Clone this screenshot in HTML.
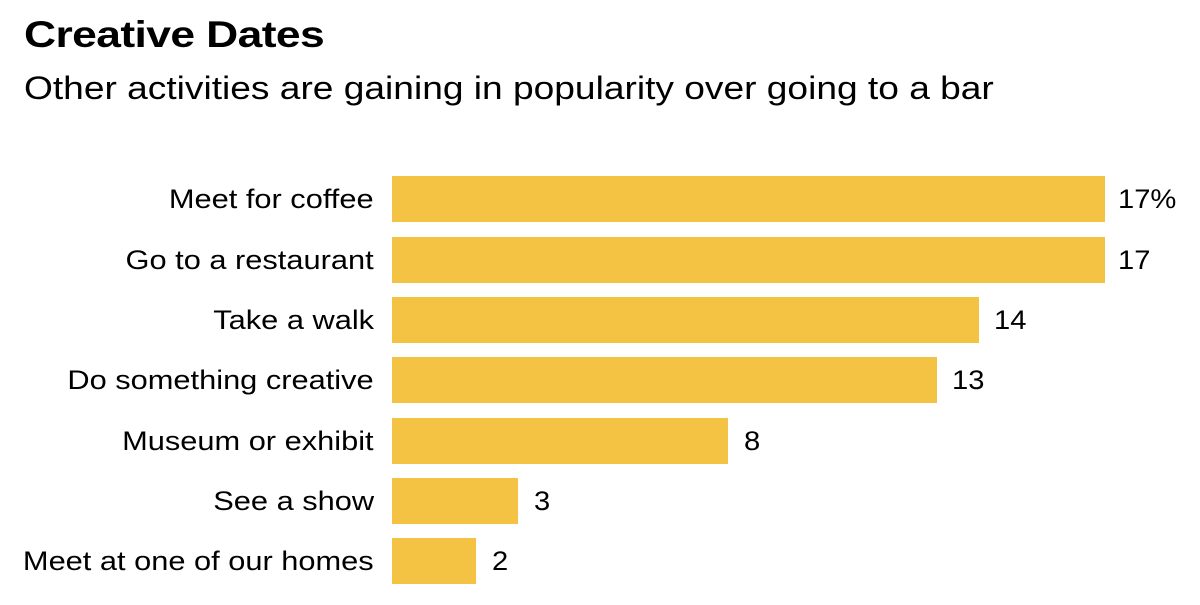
<!DOCTYPE html>
<html><head><meta charset="utf-8"><style>
body{margin:0;width:1200px;height:605px;background:#fff;font-family:"Liberation Sans",sans-serif;color:#000;position:relative;overflow:hidden}
.t{position:absolute;left:24px;top:14px;font-size:37px;font-weight:bold;letter-spacing:-0.5px;transform:scaleX(1.2);transform-origin:0 0}
.s{position:absolute;left:24px;top:70px;font-size:32px;transform:scaleX(1.16);transform-origin:0 0;white-space:nowrap}
.l{position:absolute;right:826px;font-size:27px;line-height:46px;white-space:nowrap;transform:scaleX(1.14);transform-origin:100% 0}
.b{position:absolute;left:392px;height:46px;background:#F5C343}
.v{position:absolute;font-size:27px;line-height:46px;transform:scaleX(1.08);transform-origin:0 0}
</style></head><body>
<div class="t">Creative Dates</div>
<div class="s">Other activities are gaining in popularity over going to a bar</div>

<div class="l" style="top:176px">Meet for coffee</div><div class="b" style="top:176px;width:713px"></div><div class="v" style="top:176px;left:1118px">17%</div>
<div class="l" style="top:237px">Go to a restaurant</div><div class="b" style="top:237px;width:713px"></div><div class="v" style="top:237px;left:1118px">17</div>
<div class="l" style="top:297px">Take a walk</div><div class="b" style="top:297px;width:587px"></div><div class="v" style="top:297px;left:994px">14</div>
<div class="l" style="top:357px">Do something creative</div><div class="b" style="top:357px;width:545px"></div><div class="v" style="top:357px;left:952px">13</div>
<div class="l" style="top:418px">Museum or exhibit</div><div class="b" style="top:418px;width:336px"></div><div class="v" style="top:418px;left:744px">8</div>
<div class="l" style="top:478px">See a show</div><div class="b" style="top:478px;width:126px"></div><div class="v" style="top:478px;left:534px">3</div>
<div class="l" style="top:538px">Meet at one of our homes</div><div class="b" style="top:538px;width:84px"></div><div class="v" style="top:538px;left:492px">2</div>
</body></html>
